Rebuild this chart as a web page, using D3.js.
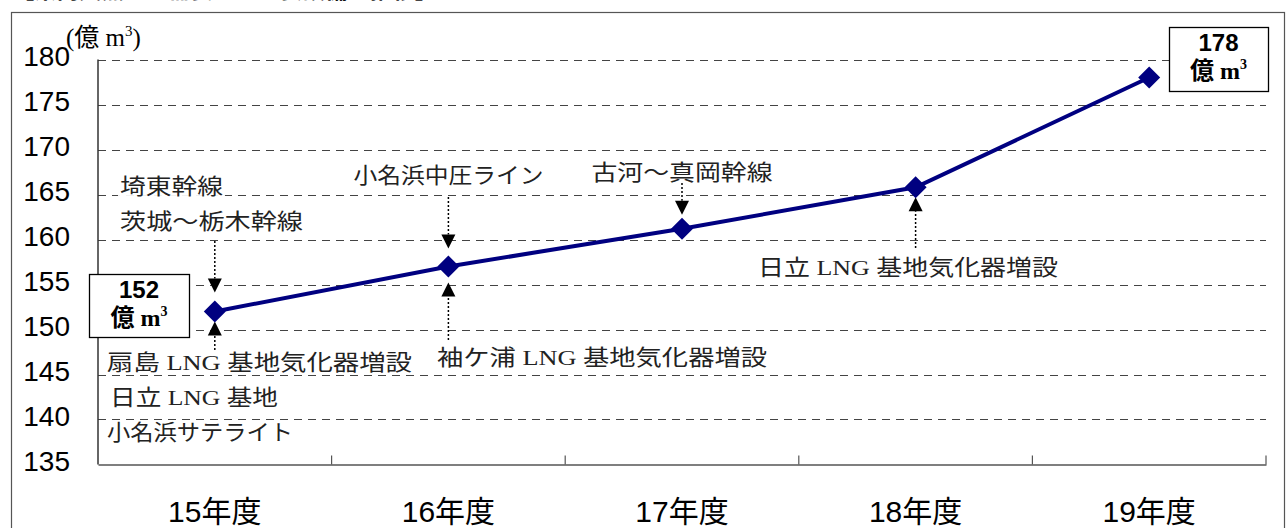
<!DOCTYPE html>
<html><head><meta charset="utf-8">
<script src="https://cdn.jsdelivr.net/npm/d3@7"></script>
<style>body{margin:0;background:#fff;}svg{display:block;}</style>
</head><body>
<svg id="c" width="1287" height="528"></svg>
<script>
const categories = ["15年度","16年度","17年度","18年度","19年度"];
const values = [152, 157, 161.2, 165.8, 178];
const yTicks = [135,140,145,150,155,160,165,170,175,180];
const unitLabel = "(億 m";
const startLabel = ["152","億 m"];
const endLabel = ["178","億 m"];
const aboveNotes = [["埼東幹線","茨城～栃木幹線"],["小名浜中圧ライン"],["古河～真岡幹線"]];
const belowNotes = [["扇島 LNG 基地気化器増設","日立 LNG 基地","小名浜サテライト"],["袖ケ浦 LNG 基地気化器増設"],["日立 LNG 基地気化器増設"]];
const titleText = "【県内天然ガス需要量と主要設備の推移】";

const svg = d3.select("#c");
const serif = "'Liberation Serif','Noto Sans CJK JP',serif";
const sans = "'Liberation Sans','Noto Sans CJK JP',sans-serif";

const x = d3.scaleBand().domain(categories).range([98, 1266]);
const y = d3.scaleLinear().domain([135,180]).range([464.5, 59.5]);
const cx = c => x(c) + x.bandwidth()/2;

// title (clipped at the top edge, as in the reference)
svg.append("text").attr("x",12).attr("y",-2).attr("font-family",sans).attr("font-size",24)
  .attr("font-weight","bold").attr("fill","#111").attr("textLength",425).attr("lengthAdjust","spacingAndGlyphs").text(titleText);

// outer border
svg.append("rect").attr("x",11.5).attr("y",12.5).attr("width",1273).attr("height",530)
  .attr("fill","none").attr("stroke","#555").attr("stroke-width",1.2);

// gridlines
svg.append("g").selectAll("line").data(yTicks.filter(t=>t>135)).join("line")
  .attr("x1",98).attr("x2",1266).attr("y1",d=>Math.round(y(d))+0.5).attr("y2",d=>Math.round(y(d))+0.5)
  .attr("stroke","#444").attr("stroke-width",1).attr("stroke-dasharray","8,6");

// axes
const xAxis = d3.axisBottom(x).tickSize(0).tickFormat("");
svg.append("g").attr("transform",`translate(0,${y(135)})`).call(xAxis)
  .call(g=>g.select(".domain").attr("stroke","#555").attr("stroke-width",1.5));
const bounds = categories.slice(1).map(c=>x(c)).concat([x.range()[1]]);
svg.append("g").selectAll("line").data(bounds).join("line")
  .attr("x1",d=>d).attr("x2",d=>d).attr("y1",y(135)).attr("y2",y(135)-9)
  .attr("stroke","#555").attr("stroke-width",1.2);
svg.append("line").attr("x1",98).attr("x2",98).attr("y1",y(180)).attr("y2",y(135))
  .attr("stroke","#333").attr("stroke-width",1.5);

// y tick labels
svg.append("g").selectAll("text").data(yTicks).join("text")
  .attr("x",70).attr("y",d=>y(d)-3).attr("dy","0.35em").attr("text-anchor","end")
  .attr("font-family",sans).attr("font-size",28).attr("fill","#000").text(d=>d);

// x labels
svg.append("g").selectAll("text").data(categories).join("text")
  .attr("x",d=>cx(d)).attr("y",522).attr("text-anchor","middle")
  .attr("font-family",sans).attr("font-size",30).attr("fill","#000").text(d=>d);

// unit label
const ut = svg.append("text").attr("x",66).attr("y",46).attr("font-family",serif).attr("font-size",25).attr("fill","#000");
ut.append("tspan").text(unitLabel);
ut.append("tspan").attr("font-size",15).attr("dy",-10).text("3");
ut.append("tspan").attr("dy",10).text(")");

// arrows
function arrow(xp, yFrom, yTip){
  const dir = yTip > yFrom ? 1 : -1;
  const base = yTip - dir*14;
  svg.append("line").attr("x1",xp).attr("x2",xp).attr("y1",yFrom).attr("y2",base)
    .attr("stroke","#000").attr("stroke-width",1.5).attr("stroke-dasharray","2,2");
  svg.append("path").attr("d",`M${xp-7},${base}L${xp+7},${base}L${xp},${yTip}Z`).attr("fill","#000");
}
function note(txt, xp, yc, anchor, width){
  const t = svg.append("text").attr("x",xp).attr("y",yc).attr("dy","0.36em").attr("text-anchor",anchor)
    .attr("font-family",serif).attr("font-size",22).attr("fill","#222").text(txt);
  if (width) t.attr("textLength",width).attr("lengthAdjust","spacingAndGlyphs");
  const b = t.node().getBBox();
  svg.insert("rect", () => t.node()).attr("x",b.x-2).attr("y",b.y+3).attr("width",b.width+4).attr("height",b.height-6).attr("fill","#fff");
}

// 15年度
const p0x = cx(categories[0]), p0y = y(values[0]);
note(aboveNotes[0][0], 120, 186, "start", 103);
note(aboveNotes[0][1], 120, 221, "start", 183);
arrow(p0x, 241, p0y-19);
arrow(p0x, 350, p0y+10);
note(belowNotes[0][0], 107, 362, "start", 305);
note(belowNotes[0][1], 110, 397, "start", 168);
note(belowNotes[0][2], 107, 432, "start", 186);

// 16年度
const p1x = cx(categories[1]), p1y = y(values[1]);
note(aboveNotes[1][0], p1x, 175, "middle", 190);
arrow(p1x, 197, p1y-18);
arrow(p1x, 340, p1y+16);
note(belowNotes[1][0], 602, 357, "middle", 330);

// 17年度
const p2x = cx(categories[2]), p2y = y(values[2]);
note(aboveNotes[2][0], 682, 172, "middle", 181);
arrow(p2x, 183, p2y-14);

// 18年度
const p3x = cx(categories[3]), p3y = y(values[3]);
arrow(p3x, 248, p3y+10);
note(belowNotes[2][0], 908, 267, "middle", 300);

// line
const line = d3.line().x((d,i)=>cx(categories[i])).y(d=>y(d));
svg.append("path").datum(values).attr("d",line).attr("fill","none").attr("stroke","#000080").attr("stroke-width",4);
svg.append("g").selectAll("path").data(values).join("path")
  .attr("transform",(d,i)=>`translate(${cx(categories[i])},${y(d)})`)
  .attr("d","M0,-11L11,0L0,11L-11,0Z").attr("fill","#000080");

// value boxes
function valueBox(x0,y0,w,h,lbl){
  svg.append("rect").attr("x",x0+0.5).attr("y",y0+0.5).attr("width",w).attr("height",h)
    .attr("fill","#fff").attr("stroke","#000").attr("stroke-width",1.3);
  const mx = x0 + w/2;
  svg.append("text").attr("x",mx).attr("y",y0+24).attr("text-anchor","middle").attr("font-family",sans)
    .attr("font-weight","bold").attr("font-size",24).text(lbl[0]);
  const t = svg.append("text").attr("x",mx).attr("y",y0+52).attr("text-anchor","middle").attr("font-family",serif)
    .attr("font-weight","bold").attr("font-size",24);
  t.append("tspan").text(lbl[1]);
  t.append("tspan").attr("font-size",14).attr("dy",-10).text("3");
}
valueBox(89, 274, 100, 63, startLabel);
valueBox(1169, 27, 99, 64, endLabel);
</script>
</body></html>
